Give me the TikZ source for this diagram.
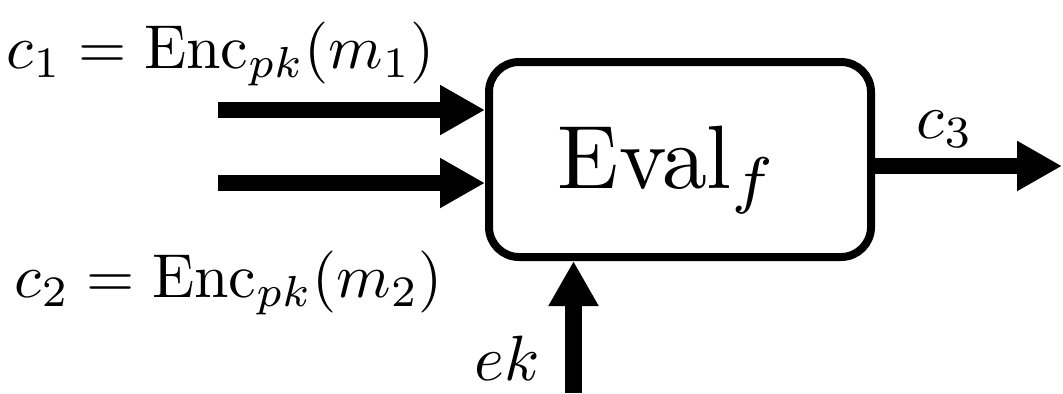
\documentclass[tikz,border=0pt]{standalone}
\usepackage{graphicx}
\usetikzlibrary{arrows.meta}
\newcommand{\myscaledmath}[2]{\scalebox{#1}{$#2$}}
\begin{document}
\begin{tikzpicture}[x=0.5pt,y=-0.5pt,
  lbl/.style={inner sep=0pt},
  evalbox/.style={draw,line width=4pt,rounded corners=15pt,minimum width=191pt,minimum height=97.5pt,inner sep=0pt},
  fat/.style={line width=8pt,-{Triangle[width=23.5pt,length=22.5pt]}},
]
\useasboundingbox (0,0) rectangle (1063,393);
\node[evalbox] (box) at (680,159.5) {};
\node[lbl,anchor=base] (evaltxt) at (668,188) {\myscaledmath{4.5}{\mathrm{Eval}_f}};
\node[lbl,anchor=base] (l1) at (221,68) {\myscaledmath{3.1}{c_1=\mathrm{Enc}_{pk}(m_1)}};
\node[lbl,anchor=base] (l2) at (229,297) {\myscaledmath{3.1}{c_2=\mathrm{Enc}_{pk}(m_2)}};
\node[lbl,anchor=base] (l3) at (945,138) {\myscaledmath{3.2}{c_3}};
\node[lbl,anchor=base] (lek) at (507,380) {\myscaledmath{3.2}{ek}};
\coordinate (a1) at (218,110);
\coordinate (a2) at (218,183);
\coordinate (o1) at (1062,166);
\coordinate (k1) at (573.5,393);
\draw[fat] (a1) -- (a1 -| box.west);
\draw[fat] (a2) -- (a2 -| box.west);
\draw[fat] (o1 -| box.east) -- (o1);
\draw[fat,line width=8.5pt] (k1) -- (k1 |- box.south);
\end{tikzpicture}
\end{document}
